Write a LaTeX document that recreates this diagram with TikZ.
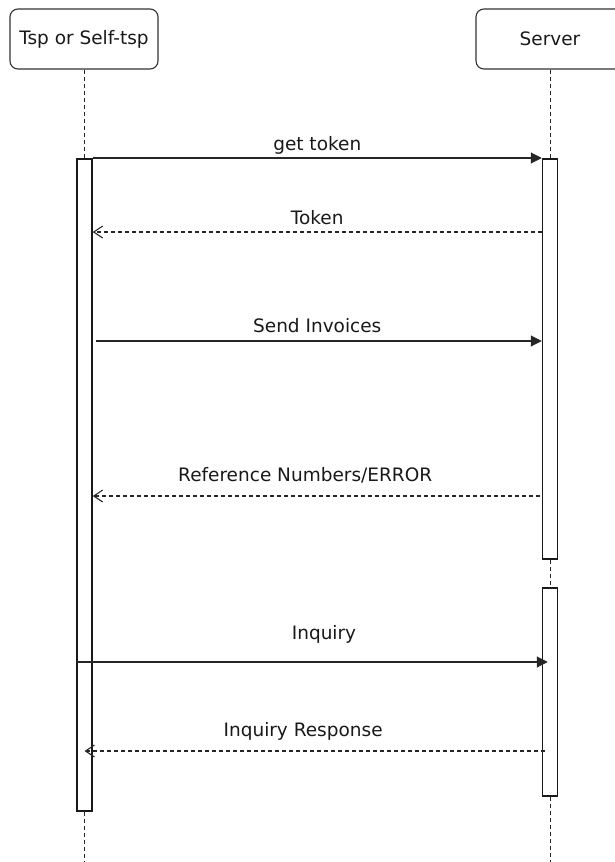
\documentclass[tikz,border=0pt]{standalone}
\usepackage{fontspec}
\setmainfont{DejaVu Sans}
\usetikzlibrary{arrows.meta, positioning}

\begin{document}
\begin{tikzpicture}[
    x=1pt, y=-1pt,
    font=\fontsize{18.5}{22}\selectfont,
    actor/.style={rectangle, rounded corners=8pt, draw=black!80, line width=1.1pt, minimum width=148pt, minimum height=60pt, text=black!90, align=center},
    bar/.style={rectangle, draw=black!90, line width=1.5pt, fill=white, minimum width=15pt, anchor=north, inner sep=0pt},
    lifeline/.style={draw=black!85, line width=1pt, dash pattern=on 4pt off 3pt},
    msg/.style={draw=black!85, line width=1.1pt, -{Triangle[length=11pt, width=11pt]}},
    reply/.style={draw=black!85, line width=1.1pt, dash pattern=on 4pt off 3pt, -{Straight Barb[length=9pt, width=12pt]}},
    msglabel/.style={above, inner sep=2pt, text depth=0.3em, text=black!90}
]
    \clip (0,0) rectangle (615,862);
    \useasboundingbox (0,0) rectangle (615,862);

    % Actors
    \node[actor] (tsp) at (84,39) {Tsp or Self-tsp};
    \node[actor] (server) at (550,39) {Server};

    % Activation bars
    \node[bar, minimum height=652pt] (tspbar) at (84.5,158) {};
    \node[bar, minimum height=400pt] (srvbarA) at (550,158) {};
    \node[bar, minimum height=208pt] (srvbarB) at (550,587) {};

    % Lifelines
    \coordinate (tspend) at (84.5,862);
    \coordinate (srvend) at (550,862);
    \draw[lifeline] (tsp.south -| tspbar) -- (tspbar.north);
    \draw[lifeline] (tspbar.south) -- (tspend);
    \draw[lifeline] (server.south -| srvbarA) -- (srvbarA.north);
    \draw[lifeline] (srvbarA.south) -- (srvbarB.north);
    \draw[lifeline] (srvbarB.south) -- (srvend);

    % Message heights
    \coordinate (gettok) at (0,158);
    \coordinate (tok) at (0,232);
    \coordinate (send) at (0,341);
    \coordinate (refno) at (0,496);
    \coordinate (inq) at (0,662);
    \coordinate (inqresp) at (0,751);

    % Arrows: token
    \draw[msg] (tspbar.east |- gettok) -- node[msglabel, yshift=2pt] {get token} (srvbarA.west |- gettok);
    \draw[reply] (srvbarA.west |- tok) -- node[msglabel, yshift=2pt] {Token} (tspbar.east |- tok);

    % Arrows: invoices
    \draw[msg, shorten <=3pt] (tspbar.east |- send) -- node[msglabel, yshift=3pt] {Send Invoices} (srvbarA.west |- send);
    \draw[reply, shorten <=2pt] (srvbarA.west |- refno) -- node[msglabel, xshift=-12pt, yshift=9pt] {Reference Numbers/ERROR} (tspbar.east |- refno);

    % Arrows: inquiry
    \draw[msg, shorten >=-6pt] (tspbar.west |- inq) -- node[msglabel, xshift=15pt, yshift=17pt] {Inquiry} (srvbarB.west |- inq);
    \draw[reply, shorten <=-3pt] (srvbarB.west |- inqresp) -- node[msglabel, xshift=-10pt, yshift=9pt] {Inquiry Response} (tspbar |- inqresp);

\end{tikzpicture}
\end{document}
